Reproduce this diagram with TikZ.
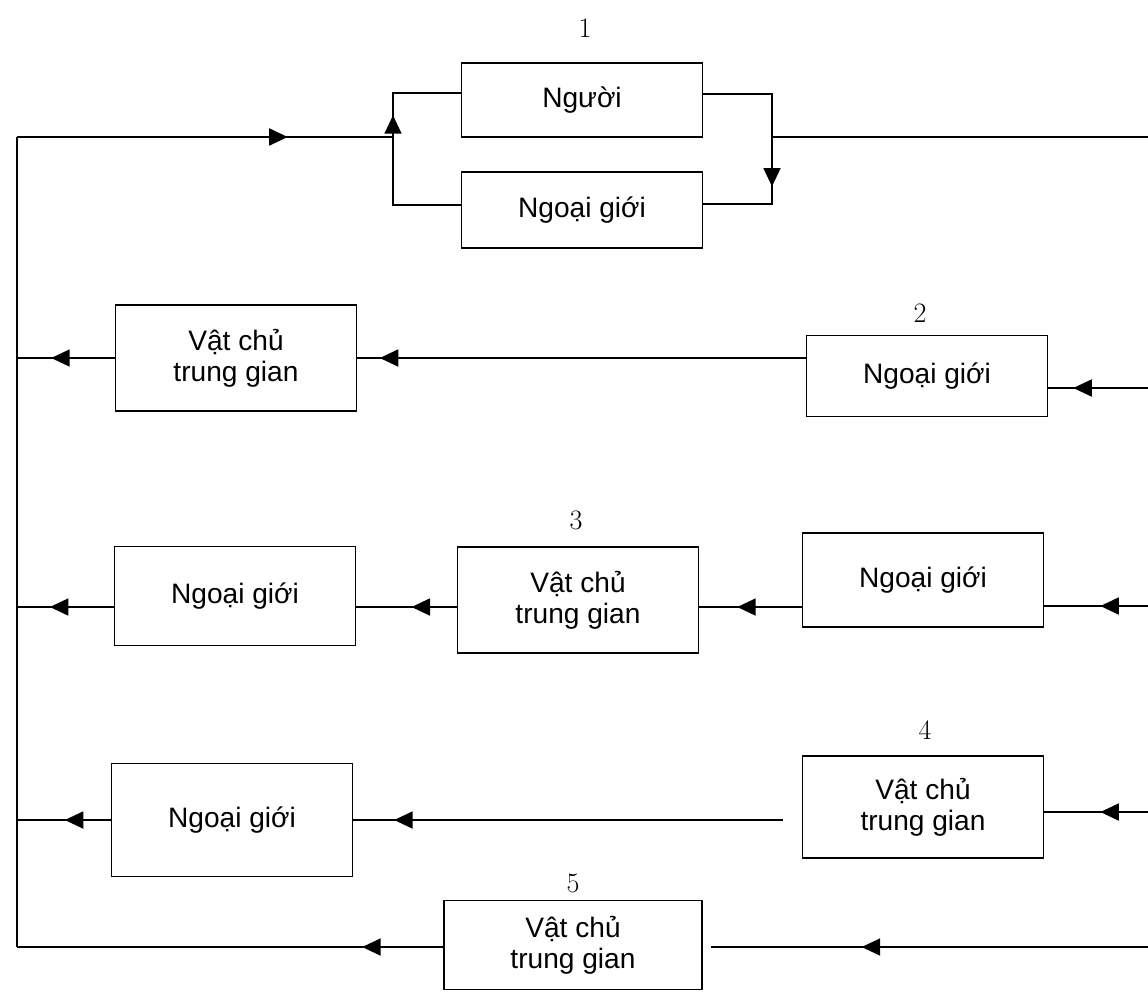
\documentclass[tikz,border=0pt]{standalone}
\usepackage{fontspec}
\newfontfamily\boxfont{Liberation Sans}
\usetikzlibrary{arrows.meta, decorations.markings}

\begin{document}
\begin{tikzpicture}[x=0.02cm, y=-0.02cm, line width=1pt,
  box/.style={draw, line width=1pt, minimum width=4.82cm, inner sep=0pt, align=center, font=\boxfont\fontsize{16}{17.5}\selectfont},
  number/.style={font=\fontsize{16}{18}\selectfont},
  flow/.style={postaction={decorate}, decoration={markings, mark=at position #1 with {\arrow{Triangle[length=0.37cm, width=0.34cm]}}}}]

\useasboundingbox (0, 0) rectangle (1148, 1002);

\node[number] (num 1) at (585, 28) {1};
\node[box, minimum height=1.48cm] (nguoi) at (582, 100) {Người};
\node[box, minimum height=1.52cm] (ngoai gioi 1) at (582, 210) {Ngoại giới};

\node[number] (num 2) at (920, 313) {2};
\node[box, minimum height=2.12cm] (vat chu 2) at (236, 358) {Vật chủ\\trung gian};
\node[box, minimum height=1.62cm] (ngoai gioi 2) at (927, 376) {Ngoại giới};

\node[number] (num 3) at (576, 520) {3};
\node[box, minimum height=1.98cm] (ngoai gioi 3 left) at (235, 596) {Ngoại giới};
\node[box, minimum height=2.12cm] (vat chu 3) at (578, 600) {Vật chủ\\trung gian};
\node[box, minimum height=1.88cm] (ngoai gioi 3 right) at (923, 580) {Ngoại giới};

\node[number] (num 4) at (925, 730) {4};
\node[box, minimum height=2.26cm] (ngoai gioi 4) at (232, 820) {Ngoại giới};
\node[box, minimum height=2.04cm] (vat chu 4) at (923, 807) {Vật chủ\\trung gian};

\node[number] (num 5) at (573, 883) {5};
\node[box, minimum width=5.16cm, minimum height=1.78cm] (vat chu 5) at (573, 945) {Vật chủ\\trung gian};

\coordinate (left top) at (17, 137);
\coordinate (left bottom) at (17, 947);
\coordinate (split) at (393, 137);
\coordinate (merge) at (772, 137);
\coordinate (right 1) at (1148, 137);
\coordinate (right 2) at (1148, 388);
\coordinate (right 3) at (1148, 606);
\coordinate (right 4) at (1148, 812);
\coordinate (right 5) at (1148, 947);
\coordinate (left 2) at (17, 358);
\coordinate (left 3) at (17, 607);
\coordinate (left 4) at (17, 820);

% top loop
\draw (left bottom) -- (left top) {};
\draw[flow=0.72] (left top) -- (split) {};
\draw[flow=0.195] (split) |- ([yshift=0.14cm]nguoi.west) {};
\draw (split) |- ([yshift=0.1cm]ngoai gioi 1.west) {};
\draw ([yshift=0.12cm]nguoi.east) -| (merge) {};
\draw[flow=0.365] (merge) |- ([yshift=0.12cm]ngoai gioi 1.east) {};
\draw (merge) -- (right 1) {};

\draw[flow=0.75] (right 2) -- (ngoai gioi 2.east |- right 2) {};
\draw[flow=0.95] (ngoai gioi 2.west |- left 2) -- (vat chu 2.east |- left 2) {};
\draw[flow=0.65] (vat chu 2.west |- left 2) -- (left 2) {};

\draw[flow=0.46] (right 3) -- (ngoai gioi 3 right.east |- right 3) {};
\draw[flow=0.63] (ngoai gioi 3 right.west |- left 3) -- (vat chu 3.east |- left 3) {};
\draw[flow=0.45] (vat chu 3.west |- left 3) -- (ngoai gioi 3 left.east |- left 3) {};
\draw[flow=0.66] (ngoai gioi 3 left.west |- left 3) -- (left 3) {};

\draw[flow=0.46] (right 4) -- (vat chu 4.east |- right 4) {};
\draw[flow=0.905] ([xshift=-0.38cm]vat chu 4.west |- left 4) -- (ngoai gioi 4.east) {};
\draw[flow=0.49] (ngoai gioi 4.west) -- (left 4) {};

\draw[flow=0.655] (right 5) -- ([xshift=0.16cm]vat chu 5.east |- right 5) {};
\draw[flow=0.19] (vat chu 5.west |- left bottom) -- (left bottom) {};
\end{tikzpicture}
\end{document}
